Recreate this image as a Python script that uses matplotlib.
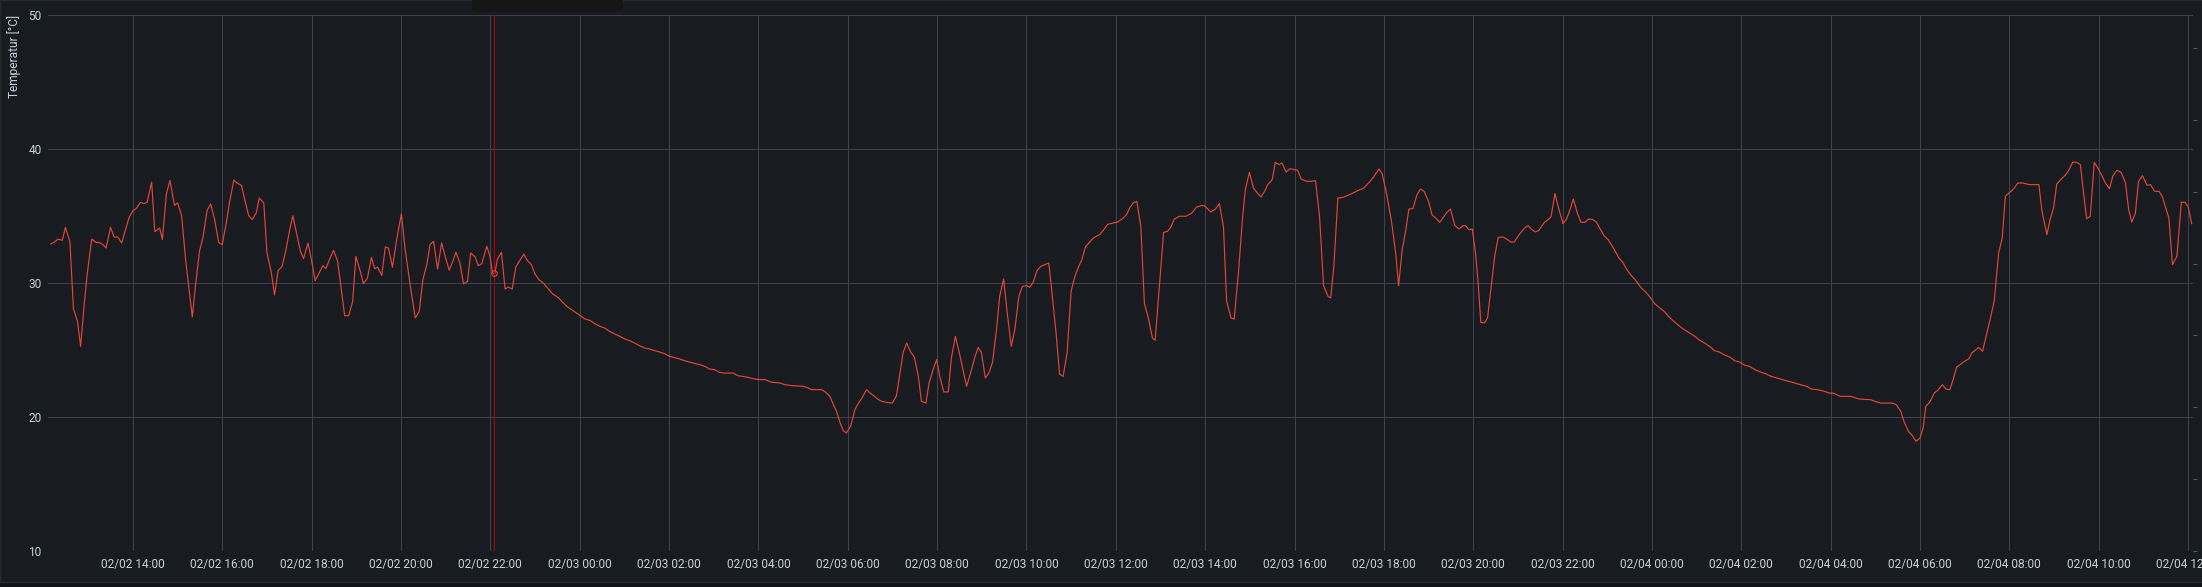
import numpy as np
import pandas as pd
import matplotlib
matplotlib.use("Agg")
import matplotlib.pyplot as plt
import matplotlib.dates as mdates
from matplotlib.patches import FancyBboxPatch, Rectangle

# ---- data: hours since 02/02 00:00 and temperature [°C] ----
hours = [
    12.16, 12.23, 12.33, 12.42, 12.49, 12.59, 12.67, 12.76, 12.83, 12.90, 12.98, 13.08, 13.17, 13.24,
    13.33, 13.40, 13.50, 13.58, 13.66, 13.75, 13.84, 13.91, 14.00, 14.07, 14.17, 14.25, 14.32, 14.42,
    14.49, 14.60, 14.66, 14.75, 14.83, 14.93, 15.00, 15.09, 15.18, 15.24, 15.33, 15.40, 15.49, 15.57,
    15.66, 15.74, 15.83, 15.92, 16.00, 16.09, 16.16, 16.26, 16.33, 16.43, 16.50, 16.59, 16.67, 16.76,
    16.83, 16.93, 17.00, 17.10, 17.17, 17.25, 17.34, 17.43, 17.51, 17.58, 17.67, 17.75, 17.82, 17.92,
    18.01, 18.08, 18.17, 18.25, 18.32, 18.40, 18.49, 18.58, 18.64, 18.74, 18.83, 18.92, 18.99, 19.09,
    19.16, 19.25, 19.34, 19.41, 19.48, 19.57, 19.65, 19.72, 19.81, 19.91, 20.01,
    20.09, 20.20, 20.32, 20.41, 20.49, 20.58, 20.65, 20.73, 20.82, 20.91, 21.00, 21.08, 21.16, 21.23,
    21.32, 21.40, 21.49, 21.56, 21.66, 21.73, 21.81, 21.92, 21.99, 22.05, 22.10, 22.16, 22.25, 22.33,
    22.40, 22.49, 22.57, 22.66, 22.75, 22.83, 22.92, 23.00, 23.09, 23.20, 23.30, 23.39, 23.52, 23.62,
    23.71, 23.82, 23.93, 24.00, 24.12, 24.23, 24.34, 24.45, 24.56, 24.67, 24.79, 24.90, 25.01, 25.12,
    25.23, 25.34, 25.46, 25.57, 25.68, 25.79, 25.90, 26.01, 26.13, 26.24, 26.35, 26.46, 26.57, 26.69,
    26.80, 26.91, 27.02, 27.13, 27.24, 27.43, 27.54, 27.65, 27.77, 27.88, 28.01,
    28.15, 28.30, 28.48, 28.60, 28.75, 29.01, 29.12, 29.19, 29.42, 29.51, 29.60, 29.68, 29.75, 29.83,
    29.90, 29.97, 30.07, 30.16, 30.25, 30.32, 30.42, 30.50, 30.57, 30.67, 30.76, 30.87, 31.00, 31.09,
    31.17, 31.24, 31.32, 31.41, 31.49, 31.58, 31.65, 31.75, 31.82, 31.91, 31.99, 32.06, 32.15, 32.25,
    32.32, 32.41, 32.49, 32.58, 32.66, 32.75, 32.84, 32.92, 32.99, 33.08, 33.16, 33.24, 33.33, 33.40,
    33.49, 33.57, 33.66, 33.74, 33.83, 33.91, 34.00, 34.07, 34.15, 34.24, 34.32, 34.41, 34.50, 34.58,
    34.67, 34.74, 34.82, 34.91, 35.00, 35.08, 35.17, 35.24, 35.32, 35.41, 35.49, 35.56, 35.64, 35.73,
    35.82,
    36.04, 36.15, 36.24, 36.31, 36.39, 36.47, 36.56, 36.64, 36.72, 36.82, 36.88, 36.97, 37.07, 37.16,
    37.23, 37.31, 37.42, 37.57, 37.70, 37.81, 37.91, 37.98, 38.06, 38.13, 38.23, 38.32, 38.41, 38.48,
    38.58, 38.65, 38.75, 38.84, 38.90, 38.99, 39.08, 39.18, 39.25, 39.33, 39.40, 39.50, 39.57, 39.65,
    39.72, 39.81, 39.90, 40.00, 40.07, 40.15, 40.26, 40.37, 40.47, 40.56, 40.65, 40.75, 40.81, 40.88,
    40.97, 41.08, 41.23, 41.38, 41.55, 41.68, 41.79, 41.89, 41.96, 42.05, 42.17, 42.26, 42.33, 42.41,
    42.48, 42.56, 42.65, 42.74, 42.82, 42.90, 43.00, 43.08, 43.16, 43.25, 43.32, 43.41, 43.49, 43.59,
    43.68, 43.77, 43.83,
    43.90, 43.98, 44.05, 44.11, 44.17, 44.25, 44.32, 44.41, 44.48, 44.56, 44.67, 44.77, 44.84, 44.92,
    45.01, 45.10, 45.15, 45.23, 45.30, 45.39, 45.47, 45.54, 45.60, 45.68, 45.74, 45.83, 45.92, 46.01,
    46.09, 46.16, 46.24, 46.33, 46.41, 46.50, 46.59, 46.68, 46.76, 46.83, 46.93, 47.02, 47.09, 47.18,
    47.26, 47.35, 47.43, 47.52, 47.61, 47.69, 47.76, 47.87, 47.96, 48.06, 48.16, 48.27, 48.37, 48.47,
    48.58, 48.69, 48.82, 48.96, 49.07, 49.18, 49.29, 49.40, 49.51, 49.61, 49.74, 49.85, 49.96, 50.07,
    50.18, 50.31, 50.45, 50.56, 50.67, 50.82, 50.97, 51.12, 51.27, 51.41, 51.49, 51.56, 51.71, 51.86,
    51.96, 52.05, 52.13, 52.22, 52.45, 52.64, 52.90, 52.99, 53.12, 53.38, 53.47, 53.57, 53.64, 53.74,
    53.83, 53.91, 54.00, 54.07, 54.13, 54.22, 54.32, 54.41, 54.50, 54.58, 54.67, 54.74, 54.82, 54.92,
    54.99, 55.09, 55.16, 55.25, 55.31, 55.40, 55.48, 55.57, 55.66, 55.76, 55.84, 55.91, 55.99, 56.09,
    56.19, 56.30, 56.45, 56.66, 56.73, 56.84, 56.91, 56.99, 57.06, 57.16, 57.26, 57.33, 57.42, 57.51,
    57.59, 57.66, 57.73, 57.81, 57.90, 57.98, 58.06, 58.15, 58.24, 58.32, 58.41, 58.50, 58.60, 58.67,
    58.74, 58.82, 58.89, 58.98, 59.08, 59.16, 59.25, 59.35, 59.42, 59.50, 59.57, 59.65, 59.75, 59.85,
    59.93, 60.00, 60.08,
]
temps = [
    32.91, 33.03, 33.28, 33.18, 34.15, 33.11, 28.06, 27.14, 25.27, 28.01, 30.75, 33.28, 33.03, 33.03,
    32.86, 32.61, 34.15, 33.43, 33.43, 32.99, 34.05, 34.85, 35.40, 35.55, 36.02, 35.92, 36.04, 37.54,
    33.83, 34.10, 33.23, 36.64, 37.66, 35.80, 35.97, 35.05, 31.74, 30.00, 27.46, 29.75, 32.36, 33.43,
    35.40, 35.90, 34.73, 33.03, 32.86, 34.48, 35.97, 37.69, 37.46, 37.29, 36.27, 35.05, 34.73, 35.22,
    36.34, 35.97, 32.29, 30.75, 29.10, 30.92, 31.24, 32.54, 33.98, 35.02, 33.61, 32.36, 31.82, 32.99,
    31.49, 30.17, 30.75, 31.29, 31.07, 31.74, 32.44, 31.67, 30.17, 27.56, 27.56, 28.63, 31.99, 30.87,
    29.95, 30.37, 31.92, 31.07, 31.19, 30.55, 32.69, 32.61, 31.17, 33.36, 35.17,
    32.61, 30.00, 27.39, 27.89, 30.25, 31.37, 32.86, 33.11, 31.04, 32.99, 31.87, 30.95, 31.62, 32.29,
    31.49, 29.93, 30.12, 32.24, 31.94, 31.29, 31.44, 32.74, 32.04, 30.75, 30.70, 31.79, 32.29, 29.55,
    29.70, 29.55, 31.19, 31.67, 32.16, 31.67, 31.37, 30.67, 30.25, 29.95, 29.55, 29.20, 28.91, 28.56,
    28.26, 28.01, 27.76, 27.59, 27.31, 27.21, 26.97, 26.77, 26.64, 26.39, 26.19, 26.02, 25.82, 25.70,
    25.52, 25.32, 25.15, 25.07, 24.95, 24.85, 24.73, 24.53, 24.43, 24.33, 24.20, 24.10, 24.00, 23.91,
    23.78, 23.58, 23.53, 23.33, 23.28, 23.28, 23.08, 23.03, 22.96, 22.86, 22.79,
    22.79, 22.59, 22.54, 22.41, 22.34, 22.29, 22.16, 22.04, 22.04, 21.84, 21.54, 20.92, 20.42, 19.55,
    18.98, 18.81, 19.35, 20.55, 21.09, 21.42, 22.04, 21.79, 21.62, 21.34, 21.17, 21.09, 21.04, 21.59,
    23.28, 24.83, 25.52, 24.83, 24.48, 23.03, 21.17, 21.04, 22.54, 23.53, 24.28, 23.03, 21.87, 21.87,
    24.40, 26.02, 24.90, 23.53, 22.29, 23.28, 24.40, 25.20, 24.83, 22.91, 23.28, 24.08, 26.52, 29.00,
    30.30, 27.76, 25.27, 26.52, 29.00, 29.75, 29.80, 29.68, 30.05, 30.95, 31.24, 31.37, 31.49, 29.00,
    26.02, 23.21, 23.03, 24.78, 29.38, 30.45, 31.24, 31.74, 32.69, 33.03, 33.33, 33.48, 33.61, 33.98,
    34.38,
    34.55, 34.80, 35.10, 35.60, 35.97, 36.09, 34.23, 28.46, 27.51, 25.90, 25.72, 29.50, 33.78, 33.86,
    34.15, 34.78, 34.98, 34.98, 35.22, 35.67, 35.77, 35.77, 35.52, 35.30, 35.52, 35.92, 34.18, 28.63,
    27.39, 27.31, 31.00, 34.98, 36.97, 38.26, 37.09, 36.67, 36.42, 36.84, 37.34, 37.71, 39.00, 38.83,
    38.96, 38.28, 38.53, 38.46, 38.41, 37.76, 37.59, 37.59, 37.64, 34.98, 29.80, 29.00, 28.88, 31.24,
    36.34, 36.39, 36.59, 36.84, 37.09, 37.54, 38.01, 38.51, 38.16, 36.84, 34.60, 32.36, 29.80, 32.49,
    33.73, 35.52, 35.55, 36.59, 37.01, 36.84, 36.09, 35.07, 34.85, 34.53, 34.85, 35.27, 35.52, 34.28,
    34.03, 34.28, 34.28,
    33.98, 34.03, 32.24, 30.00, 27.06, 27.01, 27.39, 30.00, 31.99, 33.41, 33.43, 33.23, 33.06, 33.06,
    33.53, 33.91, 34.10, 34.28, 34.03, 33.81, 33.93, 34.28, 34.55, 34.73, 34.93, 36.67, 35.47, 34.43,
    34.78, 35.42, 36.27, 35.22, 34.53, 34.53, 34.78, 34.73, 34.53, 34.10, 33.53, 33.23, 32.86, 32.36,
    31.87, 31.54, 31.04, 30.62, 30.30, 29.95, 29.63, 29.30, 28.93, 28.46, 28.18, 27.89, 27.51, 27.19,
    26.89, 26.59, 26.32, 26.02, 25.72, 25.52, 25.27, 24.95, 24.85, 24.65, 24.48, 24.20, 24.10, 23.88,
    23.78, 23.53, 23.33, 23.21, 23.03, 22.89, 22.74, 22.61, 22.46, 22.34, 22.24, 22.09, 22.04, 21.92,
    21.79, 21.79, 21.67, 21.54, 21.54, 21.34, 21.29, 21.17, 21.04, 21.04, 20.92, 20.42, 19.68, 18.93,
    18.61, 18.18, 18.43, 19.18, 20.80, 21.12, 21.79, 22.04, 22.41, 22.09, 22.04, 22.79, 23.73, 23.96,
    24.15, 24.33, 24.78, 25.02, 25.20, 24.90, 26.02, 27.31, 28.63, 32.24, 33.36, 36.47, 36.72, 37.01,
    37.46, 37.46, 37.34, 37.34, 35.35, 33.61, 34.73, 35.60, 37.39, 37.76, 38.08, 38.41, 39.03, 39.00,
    38.83, 36.72, 34.80, 34.98, 39.00, 38.58, 38.08, 37.46, 37.04, 38.03, 38.41, 38.26, 37.46, 35.47,
    34.55, 35.22, 37.59, 38.01, 37.29, 37.34, 36.84, 36.84, 36.47, 35.60, 34.85, 31.37, 31.99, 36.04,
    36.02, 35.72, 34.43,
]
y_ticks = [10, 20, 30, 40, 50]
y_label = "Temperatur [°C]"
hover_hour = 22.08

base = pd.Timestamp("2024-02-02 00:00")
times = base + pd.to_timedelta(np.array(hours), unit="h")
hover_time = base + pd.Timedelta(hours=hover_hour)
hover_val = float(np.interp(hover_hour, hours, temps))

BG = "#181b1f"
GRID = "#3f4248"
TXT = "#c7d0d9"
LINE = "#e2453c"

W, H = 2202, 587
fig = plt.figure(figsize=(W / 100, H / 100), dpi=100)
fig.patch.set_facecolor("#111217")
panel = Rectangle((0, 1 - 582 / H), 1, 582 / H, transform=fig.transFigure,
                  facecolor=BG, edgecolor="#25282d", lw=1, zorder=-10)
fig.add_artist(panel)

L, R, T, B = 48, 2193, 15, 551
ax = fig.add_axes([L / W, 1 - B / H, (R - L) / W, (B - T) / H])
ax.set_zorder(1)
ax.patch.set_alpha(0)
ax.plot(times, temps, color=LINE, lw=0.85, zorder=3, solid_joinstyle="round")

ax.set_ylim(10, 50)
ax.set_xlim(base + pd.Timedelta(hours=12.1), base + pd.Timedelta(hours=60.11))
ax.set_yticks(y_ticks)
ax.xaxis.set_major_locator(mdates.HourLocator(byhour=range(0, 24, 2)))
ax.xaxis.set_major_formatter(mdates.DateFormatter("%m/%d %H:%M"))
ax.grid(True, color=GRID, lw=0.75, zorder=1)
for s in ax.spines.values():
    s.set_visible(False)
ax.tick_params(axis="both", length=0, colors=TXT, labelsize=8.6)
ax.tick_params(axis="x", pad=5)
ax.tick_params(axis="y", pad=4.5)
for lab in ax.get_xticklabels() + ax.get_yticklabels():
    lab.set_fontfamily("Roboto")

# crosshair
ax.axvline(hover_time, color="#b0000a", lw=0.8, zorder=4)
ax.plot([hover_time], [hover_val], marker="o", ms=4, mfc="none", mec=LINE, mew=0.8, zorder=5)

# right axis (unlabelled ticks)
ax2 = ax.twinx()
ax2.set_ylim(0, 7 * (B - T) / (B - 48))
ax2.set_yticks(range(8))
ax2.set_yticklabels([])
ax2.tick_params(axis="y", length=3, width=0.8, color="#55585e", direction="out")
for s in ax2.spines.values():
    s.set_visible(False)

fig.text(14 / W, 1 - T / H, y_label, rotation=90, ha="center", va="top",
         color=TXT, fontsize=8.6, family="Roboto", zorder=5)

# cut-off tooltip box at top
tip = FancyBboxPatch((472 / W, 1 - 12 / H), 151 / W, 20 / H,
                     boxstyle="round,pad=0,rounding_size=0.004",
                     transform=fig.transFigure, facecolor="#151515",
                     edgecolor="none", zorder=10)
fig.add_artist(tip)

fig.savefig("out.png", dpi=100, facecolor=fig.get_facecolor())
